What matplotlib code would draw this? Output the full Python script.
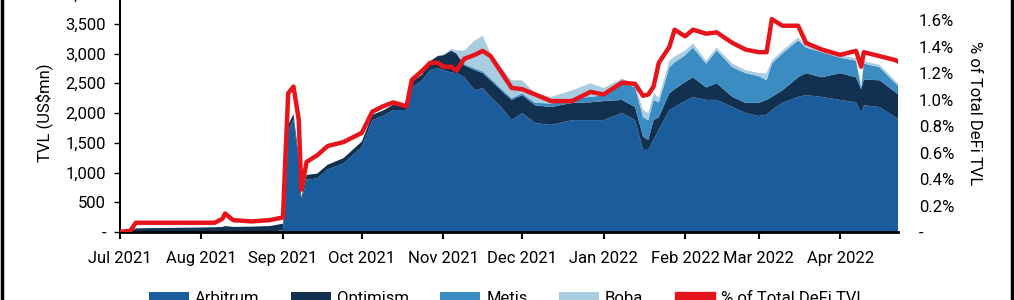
import numpy as np
import pandas as pd
import matplotlib
matplotlib.use("Agg")
import matplotlib.pyplot as plt
import matplotlib.dates as mdates
from matplotlib.ticker import FuncFormatter, MultipleLocator
from matplotlib.lines import Line2D
from matplotlib.patches import Patch

plt.rcParams['font.family'] = ['Roboto', 'DejaVu Sans']

# sampled dates (irregular, denser around spikes)
dates = ['2021-07-01', '2021-07-05', '2021-07-07', '2021-07-12', '2021-07-22', '2021-07-31',
         '2021-08-06', '2021-08-09', '2021-08-10', '2021-08-13', '2021-08-20', '2021-08-27',
         '2021-09-01', '2021-09-02', '2021-09-03', '2021-09-05', '2021-09-07', '2021-09-08',
         '2021-09-10', '2021-09-14', '2021-09-18', '2021-09-24', '2021-10-01', '2021-10-05',
         '2021-10-09', '2021-10-13', '2021-10-18', '2021-10-20', '2021-10-24', '2021-10-27',
         '2021-10-30', '2021-11-01', '2021-11-04', '2021-11-06', '2021-11-09', '2021-11-13',
         '2021-11-16', '2021-11-19', '2021-11-23', '2021-11-27', '2021-12-01', '2021-12-06',
         '2021-12-12', '2021-12-20', '2021-12-27', '2022-01-01', '2022-01-08', '2022-01-13',
         '2022-01-16', '2022-01-18', '2022-01-20', '2022-01-22', '2022-01-26', '2022-01-28',
         '2022-02-01', '2022-02-04', '2022-02-09', '2022-02-13', '2022-02-19', '2022-02-24',
         '2022-03-01', '2022-03-04', '2022-03-06', '2022-03-10', '2022-03-16', '2022-03-19',
         '2022-03-25', '2022-04-01', '2022-04-07', '2022-04-09', '2022-04-10', '2022-04-16',
         '2022-04-22', '2022-04-23']

arbitrum = [0, 0, 0, 0, 0, 0,
            0, 0, 0, 0, 0, 0,
            30, 600, 1700, 1900, 1200, 500,
            880, 900, 1050, 1150, 1430, 1880,
            1950, 2050, 2050, 2430, 2550, 2720,
            2760, 2720, 2680, 2670, 2600, 2380,
            2420, 2270, 2100, 1880, 2000, 1830,
            1800, 1880, 1880, 1880, 2000, 1880,
            1380, 1380, 1550, 1720, 2050, 2100,
            2200, 2270, 2220, 2220, 2100, 2000,
            1950, 1970, 2050, 2170, 2270, 2300,
            2270, 2220, 2180, 2000, 2130, 2100,
            1930, 1900]

optimism = [0, 0, 60, 65, 70, 75,
            80, 85, 100, 85, 90, 100,
            110, 100, 100, 80, 80, 70,
            80, 80, 80, 90, 90, 90,
            90, 90, 90, 90, 100, 150,
            200, 250, 370, 330, 200, 340,
            250, 280, 280, 340, 300, 300,
            300, 290, 300, 320, 220, 220,
            220, 170, 330, 210, 280, 300,
            320, 330, 210, 280, 170, 170,
            220, 250, 220, 210, 330, 370,
            330, 450, 420, 400, 430, 450,
            420, 420]

metis = [0, 0, 0, 0, 0, 0,
         0, 0, 0, 0, 0, 0,
         0, 0, 0, 0, 0, 0,
         0, 0, 0, 0, 0, 0,
         0, 0, 0, 0, 0, 0,
         0, 0, 0, 0, 20, 30,
         30, 30, 30, 30, 30, 40,
         60, 80, 90, 100, 300, 330,
         330, 330, 340, 250, 440, 450,
         450, 500, 400, 550, 500, 500,
         450, 330, 560, 620, 620, 430,
         420, 260, 280, 30, 270, 220,
         150, 140]

boba = [0, 0, 0, 0, 0, 0,
        0, 0, 0, 0, 0, 0,
        0, 0, 0, 0, 0, 0,
        0, 0, 0, 0, 0, 0,
        0, 0, 0, 0, 0, 0,
        0, 0, 30, 50, 230, 470,
        600, 420, 360, 300, 220, 160,
        110, 130, 230, 120, 60, 50,
        120, 120, 110, 80, 110, 100,
        80, 70, 50, 50, 60, 50,
        50, 120, 50, 50, 50, 40,
        40, 40, 40, 20, 40, 40,
        40, 40]

pct_defi = [0.00, 0.01, 0.07, 0.07, 0.07, 0.07,
            0.07, 0.10, 0.14, 0.09, 0.08, 0.09,
            0.11, 0.60, 1.05, 1.10, 0.85, 0.32,
            0.53, 0.58, 0.65, 0.68, 0.75, 0.91,
            0.95, 0.98, 0.95, 1.15, 1.22, 1.28,
            1.28, 1.25, 1.25, 1.22, 1.31, 1.34,
            1.37, 1.33, 1.21, 1.09, 1.08, 1.04,
            0.99, 0.99, 1.06, 1.04, 1.13, 1.12,
            1.03, 1.04, 1.10, 1.28, 1.40, 1.53,
            1.48, 1.53, 1.50, 1.51, 1.43, 1.38,
            1.36, 1.36, 1.61, 1.56, 1.56, 1.43,
            1.38, 1.34, 1.37, 1.25, 1.36, 1.33,
            1.30, 1.29]

x = pd.to_datetime(dates)
red = '#e8141b'

fig = plt.figure(figsize=(10.14, 3.0), dpi=100)
ax = fig.add_axes([120/1014, 68/300, 778/1014, 238/300])

ax.stackplot(x, arbitrum, optimism, metis, boba,
             colors=['#1a5c9c', '#12304f', '#3a8cc2', '#a9cde0'],
             labels=['Arbitrum', 'Optimism', 'Metis', 'Boba'], linewidth=0)
ax.set_xlim(x[0], x[-1])
ax.set_ylim(0, 4000)
ax.yaxis.set_major_locator(MultipleLocator(500))
ax.yaxis.set_major_formatter(FuncFormatter(lambda v, p: '-' if v == 0 else f'{v:,.0f}'))
ax.xaxis.set_major_locator(mdates.MonthLocator())
ax.xaxis.set_major_formatter(mdates.DateFormatter('%b %Y'))
ax.tick_params(axis='x', length=5, width=1.5, pad=9, labelsize=12)
ax.tick_params(axis='y', length=4, width=1, pad=6, labelsize=12)
for s in ['top', 'right']:
    ax.spines[s].set_visible(False)
ax.spines['left'].set_linewidth(1.5)
ax.spines['bottom'].set_linewidth(2)
ax.set_ylabel('TVL (US$mn)', fontsize=12, labelpad=9)

ax2 = ax.twinx()
ax2.plot(x, pct_defi, color=red, linewidth=3.2)
ax2.set_ylim(0, 1.8)
ax2.yaxis.set_major_locator(MultipleLocator(0.2))
ax2.yaxis.set_major_formatter(FuncFormatter(lambda v, p: '-' if abs(v) < 1e-9 else f'{v:.1f}%'))
ax2.tick_params(axis='y', length=0, pad=15, labelsize=12)
for s in ['top', 'right', 'left', 'bottom']:
    ax2.spines[s].set_visible(False)
ax2.set_ylabel('% of Total DeFi TVL', fontsize=12, rotation=270, labelpad=20)

h1, l1 = ax.get_legend_handles_labels()
h1.append(Patch(color=red))
l1.append('% of Total DeFi TVL')
fig.legend(h1, l1, loc='center', bbox_to_anchor=(0.5, 0.004),
           ncol=5, frameon=False, fontsize=12, handlelength=2.4,
           handletextpad=0.35, columnspacing=1.9)

# frame edges
fig.add_artist(Line2D([1.5/1014, 1.5/1014], [0, 1], color='black', linewidth=2.5))
fig.add_artist(Line2D([1012/1014, 1012/1014], [0, 1], color='black', linewidth=2.5))

fig.savefig('out.png', dpi=100)
